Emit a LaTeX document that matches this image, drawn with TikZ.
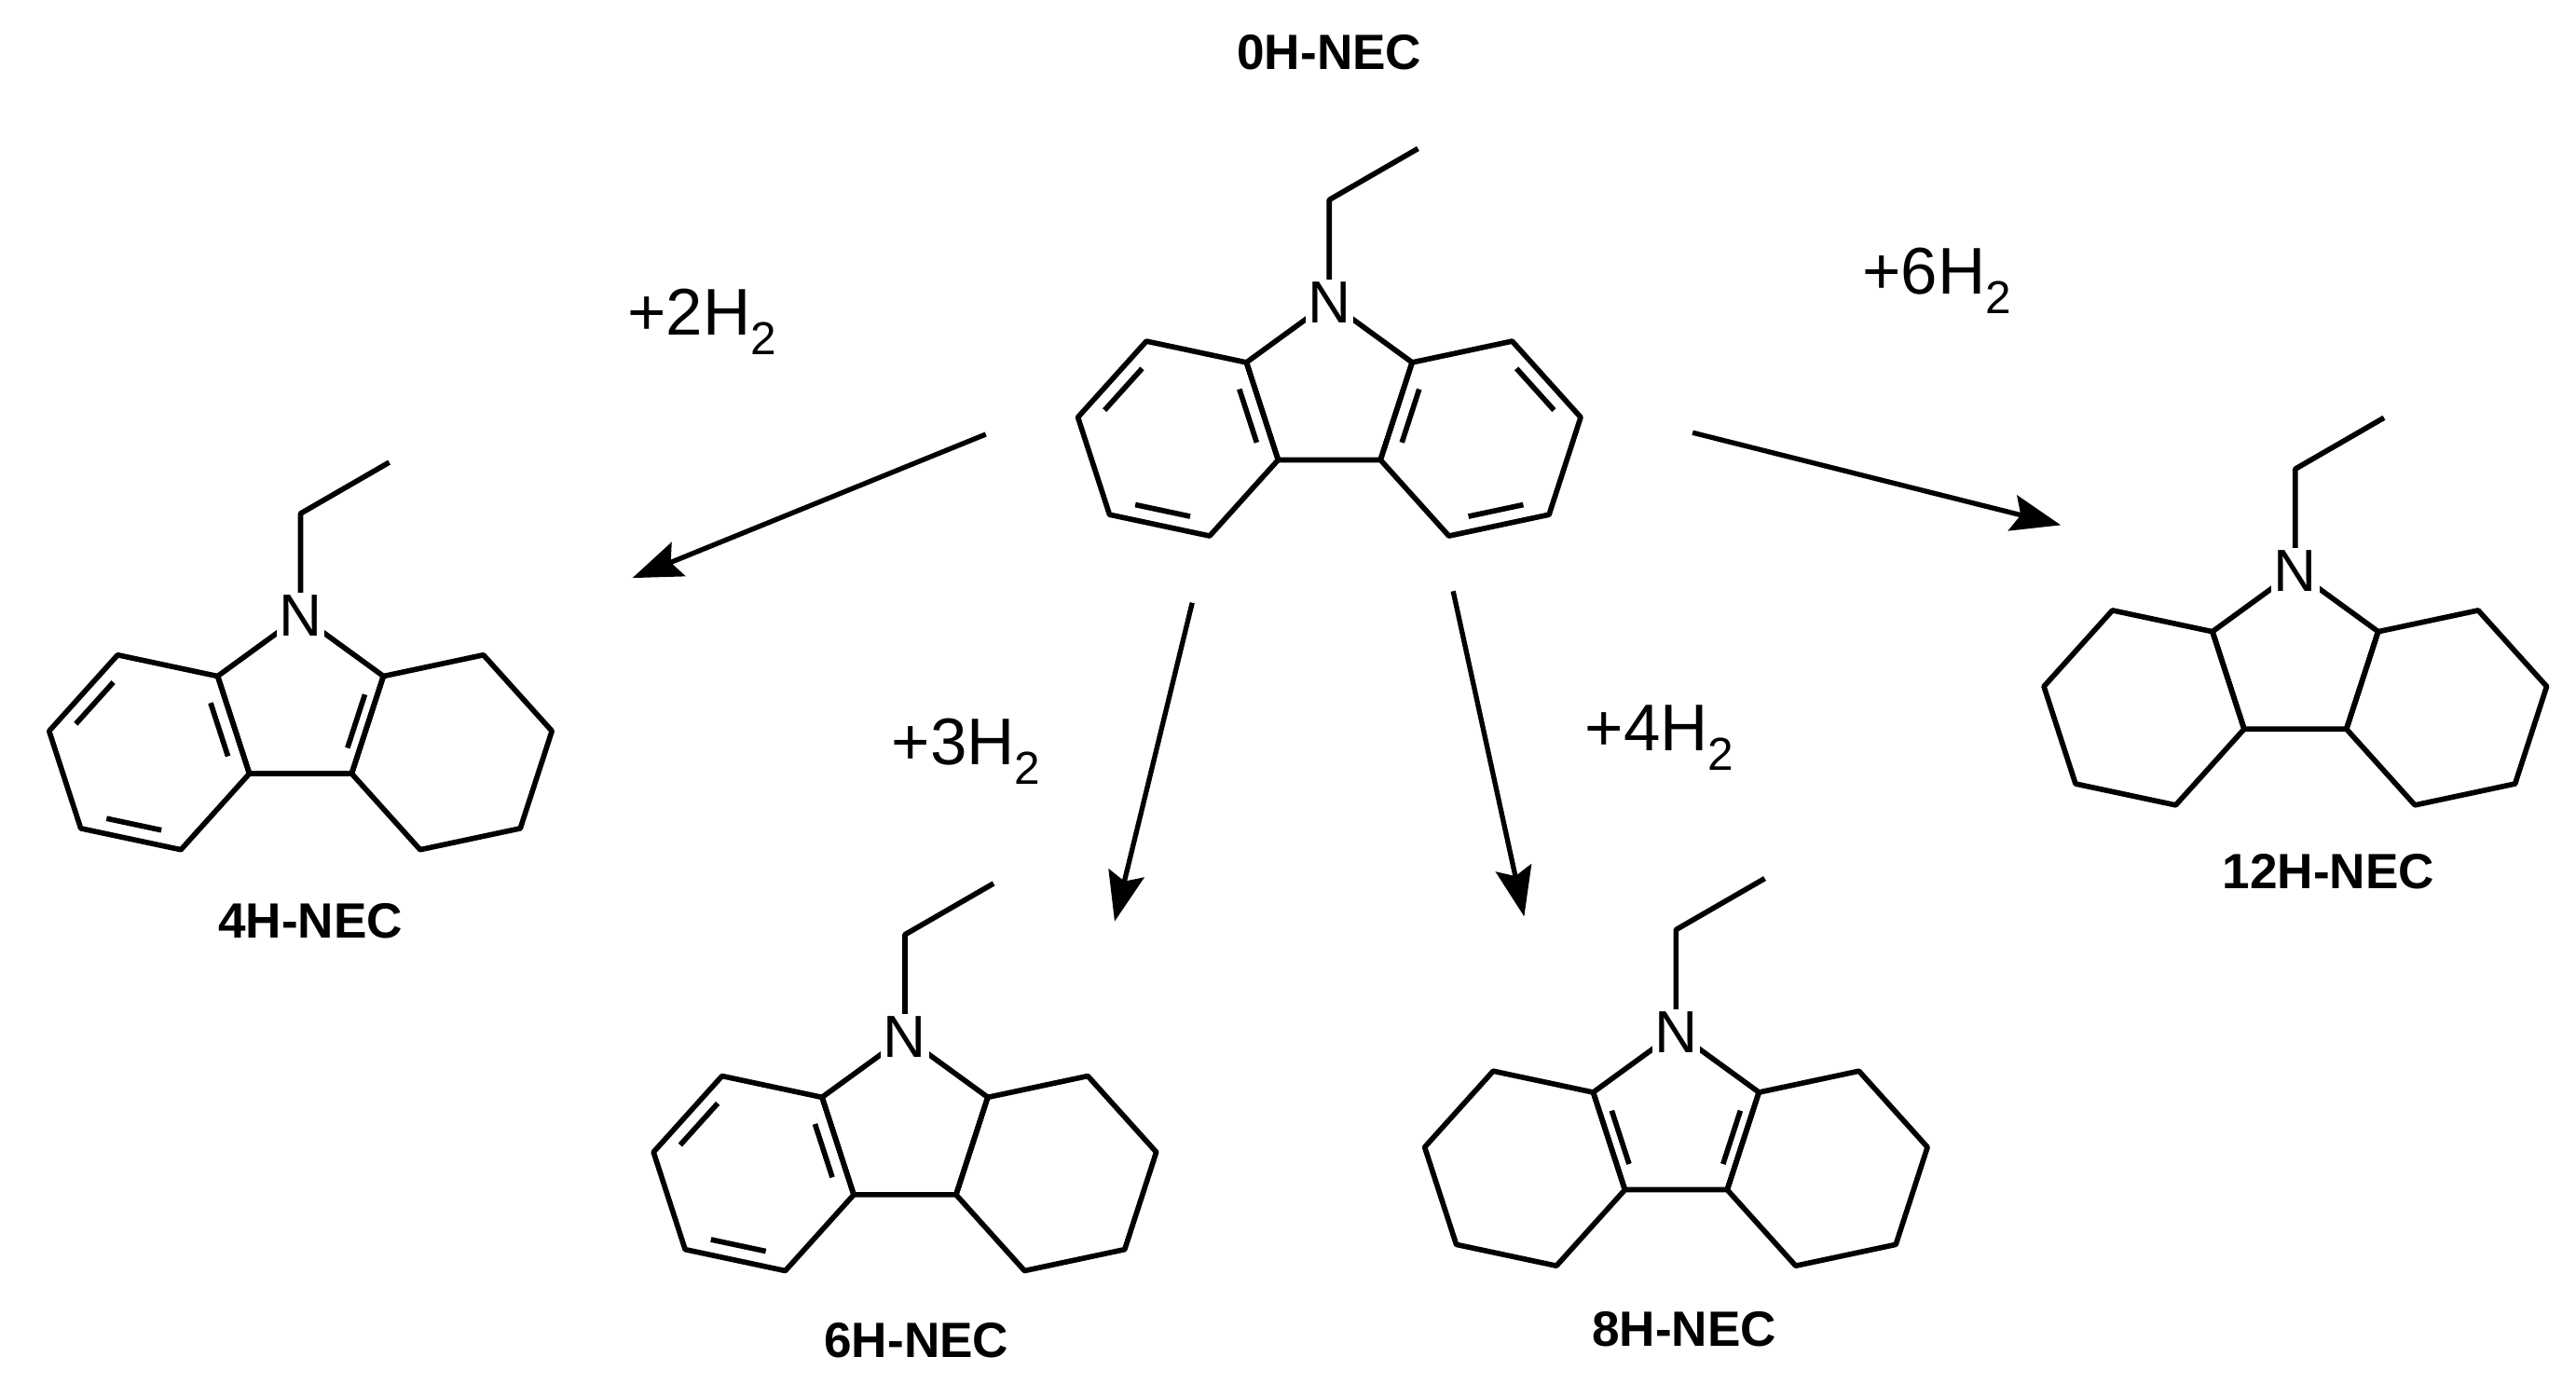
\documentclass[tikz,border=0pt]{standalone}
\usepackage{fontspec}
\setmainfont{Liberation Sans}
\usetikzlibrary{calc,arrows.meta}
\tikzset{bond/.style={line width=3.2pt,line join=round},
 lbl/.style={font=\fontsize{30}{34}\selectfont\bfseries},
 hlbl/.style={font=\fontsize{40}{44}\selectfont},
 arr/.style={line width=3pt,-{Stealth[length=30pt,width=22pt,inset=5pt]}}}
\newcommand\sub[1]{\raisebox{-0.3em}{\fontsize{28}{30}\selectfont #1}}
\newcommand\carb[2]{%
\begin{scope}[shift={(#1,{838-#2})}]
\coordinate (N) at (0,0);
\coordinate (O) at (0,-52.8);
\coordinate (a) at (50.2,-36.5);
\coordinate (b) at (31,-95.5);
\coordinate (c) at (-31,-95.5);
\coordinate (d) at (-50.2,-36.5);
\coordinate (CL) at (-91.6,-82.6);
\coordinate (CR) at (91.6,-82.6);
\coordinate (E1) at (0,62);
\coordinate (E2) at (53.7,93);
\foreach \i/\ang in {1/48,2/108,3/168,4/228,5/288,6/348}{\coordinate (l\i) at ($(CL)+(\ang:62)$);}
\foreach \i/\ang in {1/132,2/72,3/12,4/-48,5/-108,6/-168}{\coordinate (r\i) at ($(CR)+(\ang:62)$);}
\draw[bond] (N)--(a)--(b)--(c)--(d)--cycle;
\draw[bond] (l1)--(l2)--(l3)--(l4)--(l5)--(l6)--cycle;
\draw[bond] (r1)--(r2)--(r3)--(r4)--(r5)--(r6)--cycle;
\draw[bond] (N)--(E1)--(E2);
\node[fill=white,inner sep=1.5pt,font=\fontsize{36}{40}\selectfont] (Nlab) at (N) {N};
\end{scope}}
\newcommand\dbl[3]{\draw[bond] ($($(#1)!0.17!(#2)$)!0.17!(#3)$) -- ($($(#2)!0.17!(#1)$)!0.17!(#3)$);}
\newcommand\aroL{\dbl{l2}{l3}{CL}\dbl{l4}{l5}{CL}\dbl{l6}{l1}{CL}}
\newcommand\aroR{\dbl{r2}{r3}{CR}\dbl{r4}{r5}{CR}\dbl{r6}{r1}{CR}}
\begin{document}
\begin{tikzpicture}[x=1pt,y=1pt]
\useasboundingbox (0,0) rectangle (1560,838);
\carb{805}{183}{0H}\aroL\aroR
\carb{182}{373}{4H}\aroL\dbl{a}{b}{O}
\carb{548}{628}{6H}\aroL
\carb{1015}{625}{8H}\dbl{a}{b}{O}\dbl{d}{c}{O}
\carb{1390}{346}{12H}
\node[lbl] (t0) at (805,{838-32}) {0H-NEC};
\node[lbl] (t4) at (188,{838-558}) {4H-NEC};
\node[lbl] (t6) at (555,{838-812}) {6H-NEC};
\node[lbl] (t8) at (1020,{838-805}) {8H-NEC};
\node[lbl] (t12) at (1410,{838-528}) {12H-NEC};
\node[hlbl] (h2) at (425,{838-195}) {+2H\sub{2}};
\node[hlbl] (h3) at (585,{838-455}) {+3H\sub{2}};
\node[hlbl] (h4) at (1005,{838-447}) {+4H\sub{2}};
\node[hlbl] (h6) at (1173,{838-170}) {+6H\sub{2}};
\coordinate (s2) at (597,{838-263}); \coordinate (e2) at (383,{838-350});
\coordinate (s3) at (722,{838-365}); \coordinate (e3) at (675,{838-558});
\coordinate (s4) at (880,{838-358}); \coordinate (e4) at (923,{838-555});
\coordinate (s6) at (1025,{838-262}); \coordinate (e6) at (1248,{838-318});
\draw[arr] (s2)--(e2);
\draw[arr] (s3)--(e3);
\draw[arr] (s4)--(e4);
\draw[arr] (s6)--(e6);
\end{tikzpicture}
\end{document}
